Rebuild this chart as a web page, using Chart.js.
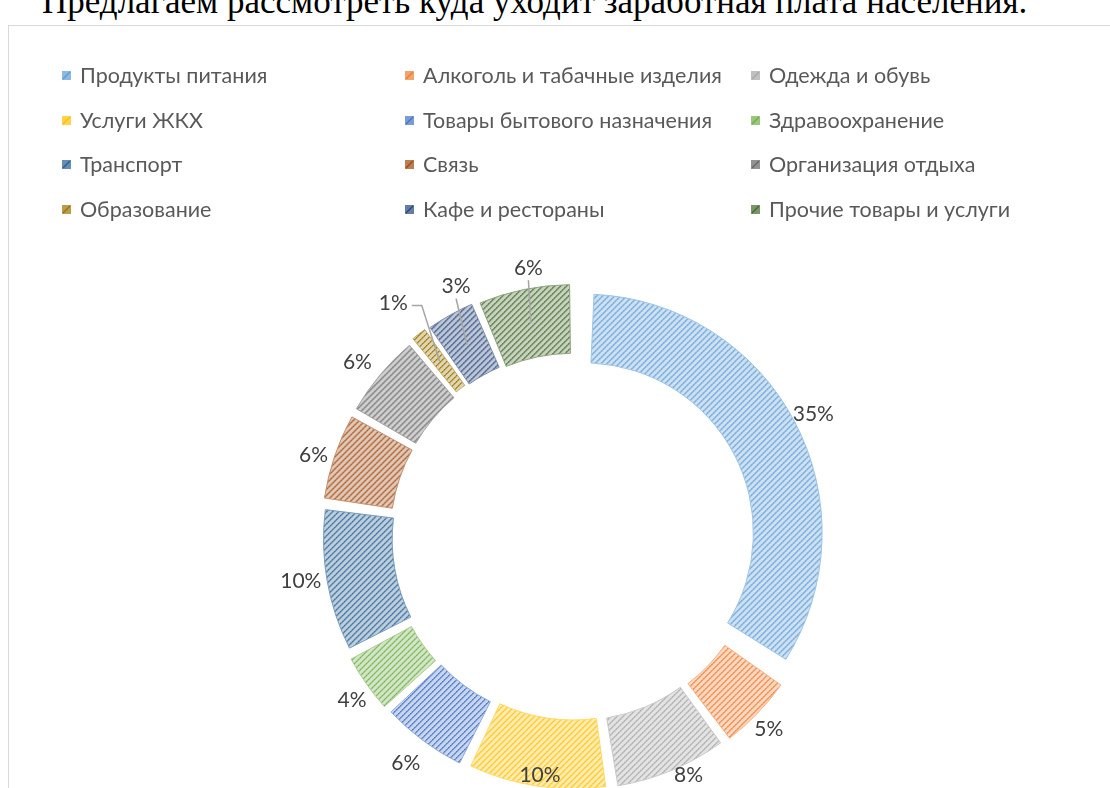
<!DOCTYPE html>
<html lang="ru">
<head>
<meta charset="utf-8">
<title>Структура расходов</title>
<script src="https://cdn.jsdelivr.net/npm/chart.js@4.4.1/dist/chart.umd.min.js"></script>
<style>
  html, body { margin: 0; padding: 0; background: #fff; overflow: hidden; }
  body { width: 1110px; height: 788px; position: relative; }
  #title {
    position: absolute; left: 42px; top: -16px; margin: 0;
    font-family: "Liberation Serif", "Times New Roman", serif;
    font-size: 35px; line-height: 35px; font-weight: normal; color: #000; white-space: nowrap;
  }
  #frame {
    position: absolute; left: 8px; top: 25px; width: 1200px; height: 900px;
    border: 1px solid #d9d9d9; box-sizing: border-box;
  }
  #wrap { position: absolute; left: 0; top: 0; width: 1110px; height: 830px; }
</style>
</head>
<body>
<p id="title">Предлагаем рассмотреть куда уходит заработная плата населения.</p>
<div id="frame"></div>
<div id="wrap"><canvas id="chartRashody"></canvas></div>

<script>
// Категории и доли расходов (%), оценены по размерам секторов
const categorias = [
  'Продукты питания', 'Алкоголь и табачные изделия', 'Одежда и обувь',
  'Услуги ЖКХ', 'Товары бытового назначения', 'Здравоохранение',
  'Транспорт', 'Связь', 'Организация отдыха',
  'Образование', 'Кафе и рестораны', 'Прочие товары и услуги'
];
const valores = [34.6, 5.2, 7.8, 9.6, 6.0, 4.1, 9.9, 6.0, 5.8, 1.2, 3.4, 6.4];

// Цвета Office по порядку
const cores = ['#5B9BD5', '#ED7D31', '#A5A5A5', '#FFC000', '#4472C4', '#70AD47',
               '#255E91', '#9E480E', '#636363', '#997300', '#264478', '#43682B'];

// Сдвиг подписей [dx, dy] и выноски (как в оригинале у мелких секторов)
const ajusteRotulo = [[-7, 6], [-5, 0], [9, 1], [6, 0], [-4, 5], [5, 3],
                      [2, -4], [1, 7], [-5, 2], [-12, -13], [16, -10], [8, -4]];
const comLinha = [false, false, false, false, false, false, false, false, false, true, true, true];

const fonteTexto = '"Lato", "Noto Sans", sans-serif';
const corRotulo = '#404040', corLegenda = '#595959';

function clarear(hex, p) {
  const n = parseInt(hex.slice(1), 16);
  const r = (n >> 16) & 255, g = (n >> 8) & 255, b = n & 255;
  const m = c => Math.round(c * p + 255 * (1 - p));
  return `rgb(${m(r)},${m(g)},${m(b)})`;
}

// Штриховка: светлый фон + пунктирные диагонали "/"
function criarPadrao(cor) {
  const c = document.createElement('canvas');
  c.width = 6; c.height = 6;
  const g = c.getContext('2d');
  g.fillStyle = clarear(cor, 0.3);
  g.fillRect(0, 0, 6, 6);
  for (let i = 0; i < 6; i++) {
    g.fillStyle = clarear(cor, 0.7);
    g.fillRect((i + 1) % 6, 5 - i, 1, 1);
    g.fillStyle = i % 2 === 0 ? cor : clarear(cor, 0.8);
    g.fillRect(i, 5 - i, 1, 1);
  }
  return g.createPattern(c, 'repeat');
}

const padroes = cores.map(criarPadrao);

// Легенда в три колонки
const pluginLegenda = {
  id: 'legendaColunas',
  afterDraw(chart) {
    const ctx = chart.ctx;
    const colX = [62, 405, 751], linhaY = [75, 120, 164, 209];
    ctx.save();
    ctx.font = `21.5px ${fonteTexto}`;
    ctx.textBaseline = 'middle';
    chart.data.labels.forEach((rotulo, i) => {
      const x = colX[i % 3], y = linhaY[Math.floor(i / 3)];
      ctx.fillStyle = clarear(cores[i], 0.7);
      ctx.fillRect(x, y - 4, 9, 9);
      ctx.strokeStyle = cores[i];
      ctx.lineWidth = 1.2;
      ctx.beginPath();
      ctx.moveTo(x + 1, y + 4);
      ctx.lineTo(x + 8, y - 3);
      ctx.stroke();
      ctx.fillStyle = corLegenda;
      ctx.fillText(rotulo, x + 18, y + 1);
    });
    ctx.restore();
  }
};

// Подписи процентов снаружи кольца
const pluginRotulos = {
  id: 'rotulosPercentuais',
  afterDatasetsDraw(chart) {
    const ctx = chart.ctx;
    const meta = chart.getDatasetMeta(0);
    const ds = chart.data.datasets[0];
    const total = ds.data.reduce((a, b) => a + b, 0);
    const desloc = chart.options.offset / 4, meiaFolga = chart.options.spacing / 2;
    ctx.save();
    ctx.font = `21px ${fonteTexto}`;
    ctx.textAlign = 'center';
    ctx.textBaseline = 'middle';
    meta.data.forEach((arco, i) => {
      const {x, y, startAngle, endAngle, outerRadius, innerRadius} = arco.getProps(['x', 'y', 'startAngle', 'endAngle', 'outerRadius', 'innerRadius'], true);
      const meio = (startAngle + endAngle) / 2;
      const dx = Math.cos(meio), dy = Math.sin(meio);
      const fix = 1 - Math.sin(Math.min(Math.PI, endAngle - startAngle));
      const borda = outerRadius + meiaFolga + desloc * (1 + fix);
      const texto = Math.round(ds.data[i] / total * 100) + '%';
      const w = ctx.measureText(texto).width, h = 16;
      const r = borda + 7 + Math.abs(dx) * w / 2 + Math.abs(dy) * h / 2;
      let lx = x + dx * r + ajusteRotulo[i][0], ly = y + dy * r + ajusteRotulo[i][1];
      ly = Math.min(ly, 775);
      if (comLinha[i]) {
        const rm = (outerRadius + innerRadius) / 2 + meiaFolga + desloc * (1 + fix);
        const ex = x + dx * rm, ey = y + dy * rm;
        ctx.strokeStyle = '#a6a6a6';
        ctx.lineWidth = 1.5;
        ctx.beginPath();
        if (Math.abs(dx) > 0.55) {
          const sx = lx + w / 2 + 4;
          ctx.moveTo(sx, ly + 2);
          ctx.lineTo(sx + 10, ly + 2);
        } else {
          ctx.moveTo(lx, ly + h / 2 + 4);
        }
        ctx.lineTo(ex, ey);
        ctx.stroke();
      }
      ctx.fillStyle = corRotulo;
      ctx.fillText(texto, lx, ly);
    });
    ctx.restore();
  }
};

new Chart('chartRashody', {
  type: 'doughnut',
  data: {
    labels: categorias,
    datasets: [{
      data: valores,
      backgroundColor: padroes,
      borderColor: cores.map(c => clarear(c, 0.6)),
      borderWidth: 1,
      hoverOffset: 0
    }]
  },
  options: {
    responsive: true,
    maintainAspectRatio: false,
    animation: false,
    cutout: '70%',
    offset: 40,
    spacing: 16,
    layout: { padding: { top: 280, bottom: 35, left: 315, right: 276 } },
    plugins: { legend: { display: false }, tooltip: { enabled: false } }
  },
  plugins: [pluginLegenda, pluginRotulos]
});
</script>
</body>
</html>
